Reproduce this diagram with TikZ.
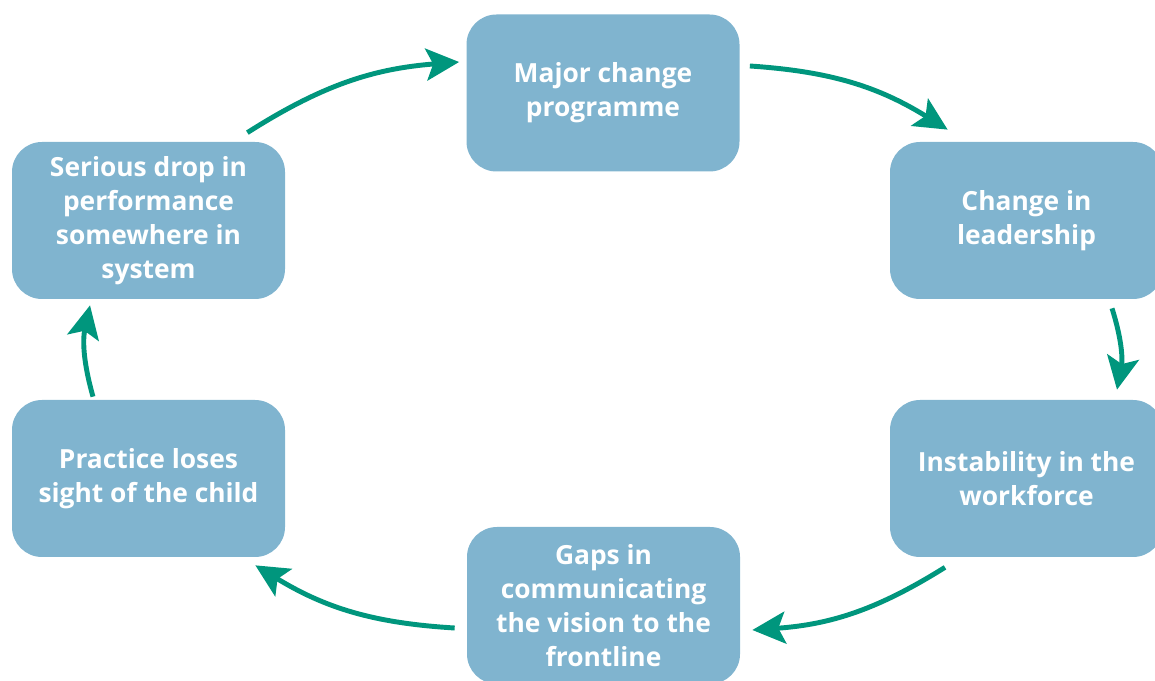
\documentclass[tikz,border=0pt]{standalone}
\usepackage{fontspec}
\setmainfont{Open Sans}
\usepackage{xcolor}
\usepackage{tikz}
\usetikzlibrary{arrows.meta}

\definecolor{boxblue}{RGB}{128,180,207}
\definecolor{cycleteal}{RGB}{0,150,125}

\begin{document}
\begin{tikzpicture}[scale=1.0, font=\bfseries\fontsize{15}{19.4}\selectfont,
  stage/.style={fill=boxblue, rounded corners=0.6cm, minimum width=5.46cm,
    minimum height=3.14cm, text=white, align=center, inner sep=0pt},
  flow/.style={-{Stealth[length=0.66cm, width=0.64cm, inset=0.14cm]},
    line width=2.8pt, cycleteal, bend left=14}]
  \useasboundingbox (0,0) rectangle (23.1,13.6);
  % the six stages of the cycle
  \node[stage] (major) at (12.06, 11.74) {Major change\\programme};
  \node[stage] (leader) at (20.53, 9.19) {Change in\\leadership};
  \node[stage] (workforce) at (20.53, 4.03) {Instability in the\\workforce};
  \node[stage] (gaps) at (12.07, 1.49) {Gaps in\\communicating\\the vision to the\\frontline};
  \node[stage] (practice) at (2.97, 4.03) {Practice loses\\sight of the child};
  \node[stage] (serious) at (2.97, 9.19) {Serious drop in\\performance\\somewhere in\\system};
  % curved arrows running clockwise
  \draw[flow] ([xshift=-0.76cm, yshift=0.18cm]serious.north east)
    to ([xshift=-0.14cm, yshift=0.62cm]major.west);
  \draw[flow] ([xshift=0.2cm, yshift=0.54cm]major.east)
    to ([xshift=1.16cm, yshift=0.24cm]leader.north west);
  \draw[flow] ([xshift=1.71cm, yshift=-0.18cm]leader.south)
    to ([xshift=1.81cm, yshift=0.2cm]workforce.north);
  \draw[flow] ([xshift=-1.63cm, yshift=-0.2cm]workforce.south)
    to ([xshift=0.24cm, yshift=-0.49cm]gaps.east);
  \draw[flow] ([xshift=-0.24cm, yshift=-0.45cm]gaps.west)
    to ([xshift=-0.6cm, yshift=-0.16cm]practice.south east);
  \draw[flow] ([xshift=-1.11cm, yshift=0.06cm]practice.north)
    to ([xshift=-1.17cm, yshift=-0.12cm]serious.south);
\end{tikzpicture}
\end{document}
